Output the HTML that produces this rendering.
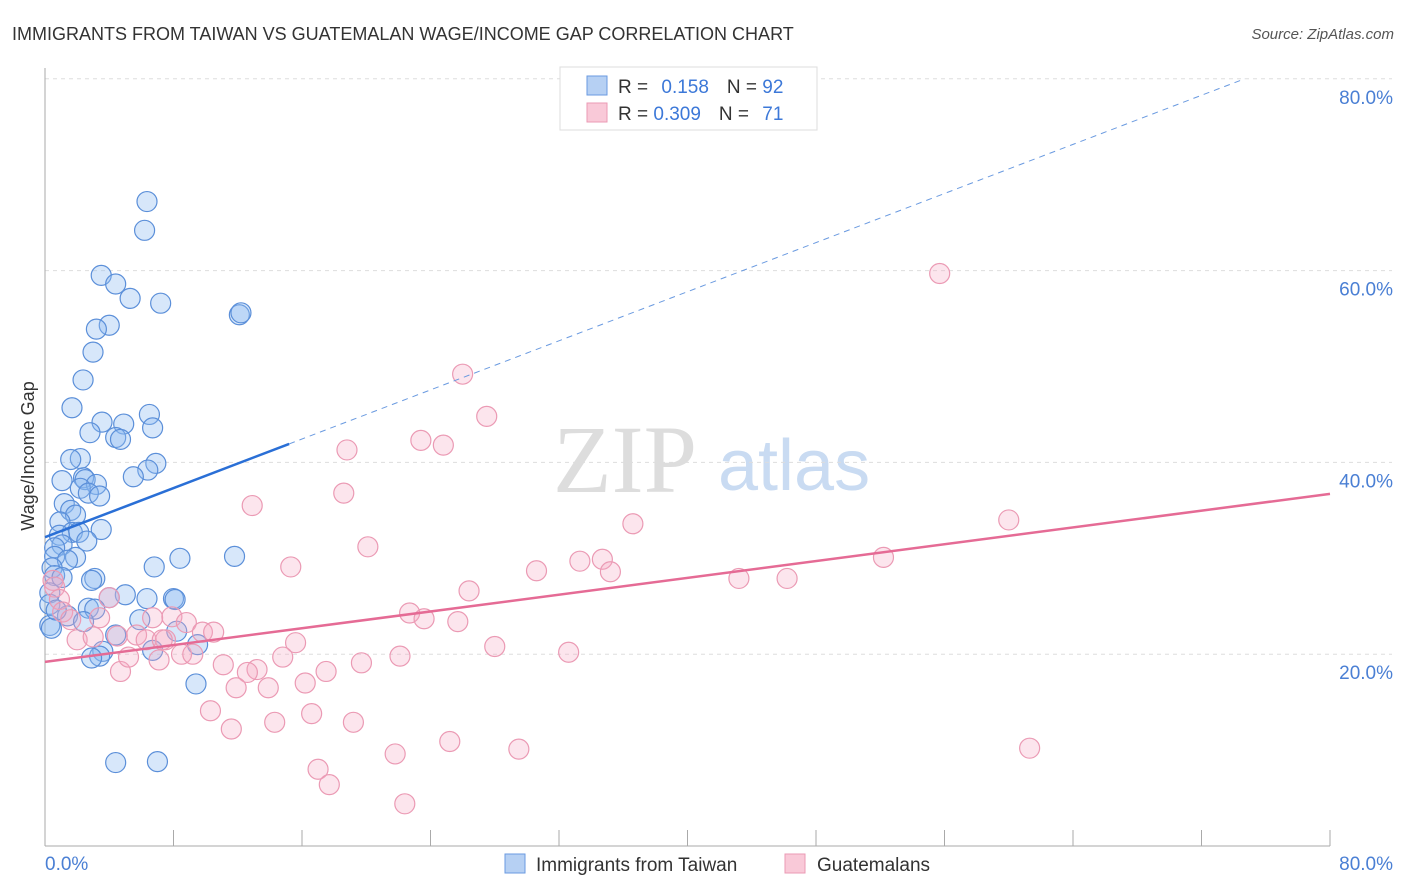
<!DOCTYPE html>
<html><head><meta charset="utf-8"><style>
body{margin:0;background:#fff;font-family:"Liberation Sans",sans-serif}
svg{display:block}
</style></head><body>
<svg id="c" width="1406" height="892" xmlns="http://www.w3.org/2000/svg">
<text x="12" y="40" font-size="18" fill="#333">IMMIGRANTS FROM TAIWAN VS GUATEMALAN WAGE/INCOME GAP CORRELATION CHART</text>
<text x="1394" y="39" font-size="15" fill="#555" font-style="italic" text-anchor="end">Source: ZipAtlas.com</text>
<g>
<text x="553" y="492" font-size="96" fill="#ddd" font-family="Liberation Serif,serif">ZIP</text>
<text x="718" y="490" font-size="72" fill="#c9dbf2">atlas</text>
</g>
<g id="grid"></g><g id="axes"></g><g id="pts"></g><g id="trend"></g>
<g>
<rect x="560" y="67" width="257" height="63" fill="#fff" stroke="#ddd"/>
<rect x="587" y="76" width="20" height="19" fill="#b6d0f3" stroke="#6a9ae0"/>
<rect x="587" y="103" width="20" height="19" fill="#f9c9d8" stroke="#eb9ab4"/>
<text x="618" y="93" font-size="19" fill="#333">R = <tspan fill="#3c78d8" dx="8">0.158</tspan><tspan dx="18">N = </tspan><tspan fill="#3c78d8">92</tspan></text>
<text x="618" y="120" font-size="19" fill="#333">R = <tspan fill="#3c78d8">0.309</tspan><tspan dx="18">N = </tspan><tspan fill="#3c78d8" dx="8">71</tspan></text>
</g>
<g>
<rect x="505" y="854" width="20" height="19" fill="#b6d0f3" stroke="#6a9ae0"/>
<text x="536" y="871" font-size="19" fill="#333">Immigrants from Taiwan</text>
<rect x="785" y="854" width="20" height="19" fill="#f9c9d8" stroke="#eb9ab4"/>
<text x="817" y="871" font-size="19" fill="#333">Guatemalans</text>
</g>
<text x="34" y="456" font-size="18" fill="#333" transform="rotate(-90 34 456)" text-anchor="middle">Wage/Income Gap</text>
</svg>
<script>
const blueX=[6.35,6.2,3.5,4.4,5.3,7.2,12.1,12.2,4.0,3.2,2.99,2.37,1.68,3.55,6.5,4.9,6.7,2.8,4.4,4.7,2.2,1.6,6.9,6.4,5.5,1.06,2.4,2.5,3.2,2.2,2.7,3.4,1.2,1.6,1.9,0.93,1.7,3.5,2.1,2.6,0.9,1.06,0.6,0.6,1.9,1.4,8.4,11.8,6.8,0.44,0.6,1.06,3.1,2.9,5.0,4.0,6.35,8.0,8.1,0.3,0.3,0.3,2.7,3.1,1.4,2.4,5.9,8.2,4.4,9.5,6.7,3.6,3.4,2.9,9.4,4.4,7.0,0.4,0.7];
const blueY=[67.2,64.2,59.5,58.6,57.1,56.6,55.4,55.6,54.3,53.9,51.5,48.6,45.7,44.2,45.0,44.0,43.6,43.1,42.6,42.4,40.4,40.3,39.9,39.2,38.5,38.1,38.4,38.2,37.7,37.3,36.8,36.5,35.7,35.0,34.5,33.8,32.7,33.0,32.7,31.8,32.4,31.4,31.1,30.2,30.1,29.8,30.0,30.2,29.1,29.0,28.2,28.0,27.9,27.7,26.2,25.9,25.8,25.8,25.7,26.4,25.2,23.0,24.8,24.7,24.0,23.4,23.6,22.4,22.0,21.0,20.4,20.3,19.8,19.6,16.9,8.7,8.8,22.7,24.6];
const pinkX=[55.7,26.0,27.5,23.4,24.8,18.8,18.6,12.9,60.0,36.6,20.1,33.3,34.7,52.2,35.2,30.6,15.3,43.2,46.2,26.4,22.7,23.6,25.7,15.6,28.0,32.6,22.1,14.8,19.7,17.5,11.1,13.2,12.6,16.2,11.9,13.9,10.3,16.6,14.3,19.2,11.6,25.2,29.5,61.3,21.8,17.0,17.7,22.4,0.5,0.6,0.9,1.1,1.6,2.0,3.0,3.4,4.0,4.5,4.7,5.2,5.7,6.3,6.7,7.1,7.5,7.9,8.5,8.8,9.2,9.8,10.5,7.3];
const pinkY=[59.7,49.2,44.8,42.3,41.8,41.3,36.8,35.5,34.0,33.6,31.2,29.7,29.9,30.1,28.6,28.7,29.1,27.9,27.9,26.6,24.3,23.7,23.4,21.2,20.8,20.2,19.8,19.7,19.1,18.2,18.9,18.4,18.1,17.0,16.5,16.5,14.1,13.8,12.9,12.9,12.2,10.9,10.1,10.2,9.6,8.0,6.4,4.4,27.7,27.0,25.7,24.4,23.6,21.5,21.8,23.8,25.9,21.9,18.2,19.7,22.0,21.5,23.8,19.4,21.5,23.9,20.0,23.3,20.0,22.3,22.3,21.5];
const blueTrend=[32.2,0.64]; // intercept, slope
const pinkTrend=[19.2,0.219];
const yTicks=[20,40,60,80];
const yTickLabels=["20.0%","40.0%","60.0%","80.0%"];
const xTicks=[0,8,16,24,32,40,48,56,64,72,80];

const NS="http://www.w3.org/2000/svg";
const X=v=>45+v*(1285/80);
const Y=v=>846-v*9.59;
function mk(tag,attrs,parent){const e=document.createElementNS(NS,tag);for(const k in attrs)e.setAttribute(k,attrs[k]);document.getElementById(parent).appendChild(e);return e;}
yTicks.forEach((t,i)=>{
 const l=mk('line',{x1:45,x2:1392,y1:Y(t),y2:Y(t),stroke:'#ddd','stroke-dasharray':'4,4'},'grid');
 
 
 const tx=mk('text',{x:1393,y:Y(t)+25,'font-size':19,fill:'#4a7fd4','text-anchor':'end'},'grid');
 tx.textContent=yTickLabels[i];
 
 
});
let a=mk('line',{x1:45,x2:45,y1:68,y2:846,stroke:'#aaa'},'axes');


a=mk('line',{x1:45,x2:1330,y1:846,y2:846,stroke:'#aaa'},'axes');


xTicks.forEach(t=>{const l=mk('line',{x1:X(t),x2:X(t),y1:830,y2:846,stroke:'#aaa'},'axes');
 
 });
let t0=mk('text',{x:45,y:870,'font-size':19,fill:'#4a7fd4'},'axes');t0.textContent='0.0%';


let t1=mk('text',{x:1393,y:870,'font-size':19,fill:'#4a7fd4','text-anchor':'end'},'axes');t1.textContent='80.0%';


blueX.forEach((x,i)=>{const c=mk('circle',{cx:X(x),cy:Y(blueY[i]),r:10,fill:'rgba(140,185,240,0.35)',stroke:'#5b8fd9','stroke-width':1.2},'pts');
 
 });
pinkX.forEach((x,i)=>{const c=mk('circle',{cx:X(x),cy:Y(pinkY[i]),r:10,fill:'rgba(245,170,195,0.3)',stroke:'#eb9ab4','stroke-width':1.2},'pts');
 
 });
const bxEnd=15.2, bxDash=74.7;
let tl=mk('line',{x1:X(0),y1:Y(blueTrend[0]),x2:X(bxEnd),y2:Y(blueTrend[0]+blueTrend[1]*bxEnd),stroke:'#2a6fd6','stroke-width':2.5},'trend');


tl=mk('line',{x1:X(bxEnd),y1:Y(blueTrend[0]+blueTrend[1]*bxEnd),x2:X(bxDash),y2:Y(blueTrend[0]+blueTrend[1]*bxDash),stroke:'#6a9ae0','stroke-width':1,'stroke-dasharray':'6,5'},'trend');


tl=mk('line',{x1:X(0),y1:Y(pinkTrend[0]),x2:X(80),y2:Y(pinkTrend[0]+pinkTrend[1]*80),stroke:'#e56b95','stroke-width':2.5},'trend');


</script>
</body></html>
